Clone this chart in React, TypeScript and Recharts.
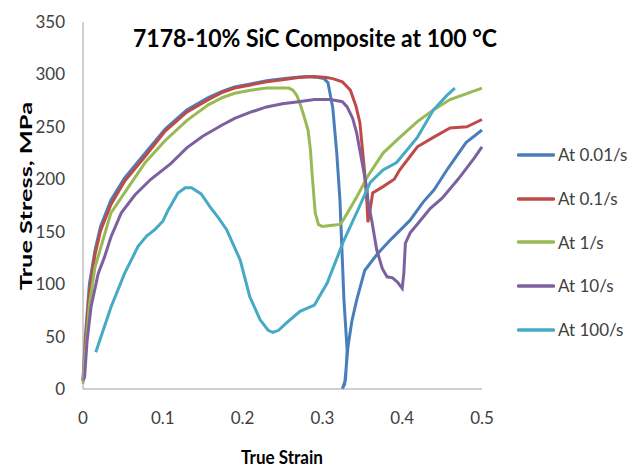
import { Legend, Line, LineChart, XAxis, YAxis } from 'recharts'

type Point = [number, number]

const STRAIN_TICKS = [0, 0.1, 0.2, 0.3, 0.4, 0.5]
const STRESS_TICKS = [0, 50, 100, 150, 200, 250, 300, 350]

// strain, true stress (MPa)
const rate001: Point[] = [
  [0, 8], [0.003, 50], [0.008, 100], [0.015, 132], [0.022, 155], [0.035, 180],
  [0.052, 201], [0.078, 225], [0.103, 248], [0.13, 266], [0.157, 278],
  [0.175, 284], [0.19, 288], [0.21, 291], [0.23, 294], [0.25, 296],
  [0.265, 297], [0.28, 298], [0.295, 297], [0.302, 296], [0.307, 292],
  [0.313, 268], [0.318, 225], [0.322, 180], [0.327, 85], [0.331, 37],
  [0.329, 9], [0.325, 0], [0.328, 5], [0.332, 40], [0.337, 65], [0.343, 85],
  [0.353, 113], [0.368, 128], [0.385, 142], [0.41, 161], [0.426, 178],
  [0.44, 190], [0.457, 210], [0.48, 235], [0.5, 247],
]

const rate01: Point[] = [
  [0, 8], [0.003, 45], [0.008, 92], [0.015, 128], [0.022, 151], [0.035, 176],
  [0.052, 198], [0.078, 222], [0.103, 246], [0.13, 264], [0.157, 276],
  [0.175, 283], [0.19, 287], [0.21, 290], [0.23, 293], [0.25, 295],
  [0.27, 297], [0.29, 298], [0.305, 297], [0.313, 296], [0.325, 293],
  [0.335, 285], [0.342, 270], [0.347, 254], [0.35, 230], [0.353, 206],
  [0.356, 175], [0.357, 159], [0.36, 172], [0.363, 187], [0.376, 193],
  [0.39, 200], [0.397, 209], [0.41, 222], [0.419, 231], [0.439, 240],
  [0.46, 249], [0.481, 250], [0.5, 257],
]

const rate1: Point[] = [
  [0, 5], [0.003, 35], [0.008, 80], [0.015, 116], [0.035, 168], [0.078, 216],
  [0.103, 237], [0.13, 256], [0.157, 271], [0.175, 278], [0.19, 282],
  [0.21, 285], [0.23, 287], [0.258, 287], [0.263, 285], [0.268, 280],
  [0.272, 272], [0.277, 260], [0.282, 247], [0.285, 228], [0.287, 206],
  [0.291, 168], [0.295, 157], [0.3, 155], [0.31, 156], [0.322, 157],
  [0.326, 161], [0.343, 183], [0.356, 202], [0.376, 225], [0.397, 240],
  [0.419, 255], [0.439, 266], [0.46, 276], [0.5, 287],
]

const rate10: Point[] = [
  [0, 8], [0.002, 11], [0.005, 45], [0.01, 78], [0.019, 110], [0.027, 126],
  [0.035, 145], [0.048, 168], [0.065, 185], [0.085, 200], [0.11, 215],
  [0.13, 230], [0.15, 241], [0.175, 252], [0.19, 258], [0.21, 264],
  [0.23, 269], [0.25, 272], [0.27, 274], [0.29, 276], [0.31, 276],
  [0.325, 274], [0.331, 269], [0.338, 258], [0.343, 244], [0.35, 215],
  [0.356, 190], [0.357, 180], [0.362, 160], [0.368, 133], [0.375, 115],
  [0.381, 107], [0.388, 106], [0.394, 102], [0.4, 96], [0.402, 110],
  [0.404, 139], [0.41, 149], [0.42, 158], [0.435, 172], [0.45, 182],
  [0.47, 200], [0.49, 220], [0.5, 231],
]

const rate100: Point[] = [
  [0.016, 35], [0.035, 78], [0.052, 110], [0.069, 136], [0.08, 146],
  [0.09, 152], [0.1, 160], [0.107, 171], [0.119, 187], [0.128, 192],
  [0.136, 192], [0.148, 186], [0.159, 174], [0.17, 163], [0.18, 152],
  [0.197, 123], [0.209, 88], [0.222, 66], [0.232, 56], [0.238, 54],
  [0.245, 56], [0.255, 63], [0.272, 74], [0.29, 80], [0.306, 101],
  [0.326, 140], [0.347, 175], [0.36, 197], [0.376, 209], [0.393, 216],
  [0.419, 240], [0.439, 266], [0.456, 280], [0.466, 287],
]

const SERIES = [
  { name: 'At 0.01/s', color: '#4a7ebb', points: rate001 },
  { name: 'At 0.1/s', color: '#be4b48', points: rate01 },
  { name: 'At 1/s', color: '#98b954', points: rate1 },
  { name: 'At 10/s', color: '#7d60a0', points: rate10 },
  { name: 'At 100/s', color: '#46aac5', points: rate100 },
]

const FONT = 'Lato, "Open Sans", sans-serif'
const AXIS_COLOR = '#a0a0a0'
const TEXT_COLOR = '#404040'

function RateLegend({ payload }: { payload?: { value: string; color: string }[] }) {
  return (
    <div>
      {(payload ?? []).map((entry) => (
        <div
          key={entry.value}
          style={{ display: 'flex', alignItems: 'center', height: 43.7 }}
        >
          <svg width={38} height={6}>
            <line
              x1={1.5}
              y1={3}
              x2={36.5}
              y2={3}
              stroke={entry.color}
              strokeWidth={3.5}
              strokeLinecap="round"
            />
          </svg>
          <span style={{ marginLeft: 3, fontSize: 17, color: TEXT_COLOR }}>
            {entry.value}
          </span>
        </div>
      ))}
    </div>
  )
}

export default function App() {
  return (
    <div
      style={{
        position: 'absolute',
        left: 0,
        top: 0,
        width: 639,
        height: 468,
        background: '#fff',
        fontFamily: FONT,
      }}
    >
      <LineChart
        width={639}
        height={468}
        margin={{ top: 22, right: 157, bottom: 0, left: 0 }}
      >
        <XAxis
          type="number"
          dataKey="strain"
          domain={[0, 0.5]}
          ticks={STRAIN_TICKS}
          height={79}
          stroke={AXIS_COLOR}
          tickLine={false}
          tickSize={0}
          tickMargin={23}
          tick={{ fill: TEXT_COLOR, fontSize: 17 }}
        />
        <YAxis
          type="number"
          dataKey="stress"
          domain={[0, 350]}
          ticks={STRESS_TICKS}
          width={83}
          stroke={AXIS_COLOR}
          tickLine={false}
          tickSize={0}
          tickMargin={18}
          tick={{ fill: TEXT_COLOR, fontSize: 17 }}
        />
        <Legend
          layout="vertical"
          align="center"
          verticalAlign="middle"
          content={<RateLegend />}
          wrapperStyle={{ left: 517, top: 133, width: 122 }}
        />
        {SERIES.map((series) => (
          <Line
            key={series.name}
            name={series.name}
            data={series.points.map(([strain, stress]) => ({ strain, stress }))}
            dataKey="stress"
            stroke={series.color}
            strokeWidth={3}
            dot={false}
            activeDot={false}
            type="linear"
            isAnimationActive={false}
          />
        ))}
      </LineChart>
      <svg
        width={639}
        height={468}
        style={{ position: 'absolute', left: 0, top: 0, pointerEvents: 'none' }}
      >
        <text
          x={133}
          y={47}
          fontSize={25}
          fontWeight="bold"
          fill="#000"
          textLength={364}
          lengthAdjust="spacingAndGlyphs"
        >
          7178-10% SiC  Composite at 100 °C
        </text>
        <text
          x={25}
          y={196}
          transform="rotate(-90 25 196)"
          textAnchor="middle"
          dominantBaseline="central"
          fontSize={17}
          fontWeight="bold"
          fill="#000"
          textLength={188}
          lengthAdjust="spacingAndGlyphs"
        >
          True Stress, MPa
        </text>
        <text
          x={282}
          y={457}
          textAnchor="middle"
          dominantBaseline="central"
          fontSize={18}
          fontWeight="bold"
          fill="#000"
          textLength={82}
          lengthAdjust="spacingAndGlyphs"
        >
          True Strain
        </text>
      </svg>
    </div>
  )
}
